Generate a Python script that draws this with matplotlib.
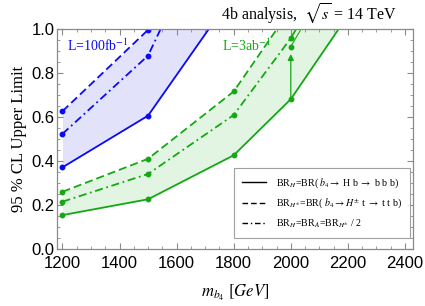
import numpy as np
import matplotlib
matplotlib.use("Agg")
import matplotlib.pyplot as plt
from matplotlib.ticker import MultipleLocator

plt.rcParams["mathtext.fontset"] = "stix"
plt.rcParams["font.family"] = "Liberation Serif"

# --- data ---
blue_x = [1200, 1500, 1800]
blue_solid = [0.37, 0.605, 1.16]
blue_dashed = [0.625, 0.995, 1.60]
blue_dashdot = [0.522, 0.878, 1.70]

green_x = [1200, 1500, 1800, 2000, 2200]
green_solid = [0.153, 0.225, 0.425, 0.68, 1.06]
green_dashed = [0.259, 0.409, 0.715, 1.09, 1.50]
green_dashdot = [0.214, 0.340, 0.608, 0.957, 1.40]

# extra thin line and arrow near m = 2000
thin_x = [2000, 2100]
thin_y = [0.919, 1.14]
arrow_x = 2000
arrow_from = 0.69
arrow_to = 0.885

xticks = [1200, 1400, 1600, 1800, 2000, 2200, 2400]
yticks = [0.0, 0.2, 0.4, 0.6, 0.8, 1.0]

BLUE = "#0a0af5"
GREEN = "#14a814"
BLUE_FILL = "#e2e2fb"
GREEN_FILL = "#e2f5e2"
FRAME = "#8a8a8a"

fig = plt.figure(figsize=(4.25, 3.06), dpi=100)
ax = fig.add_axes([0.1348, 0.187, 0.8362, 0.719])

# shaded bands (solid -> dashed)
ax.fill_between(blue_x, blue_solid, blue_dashed, color=BLUE_FILL, lw=0)
ax.fill_between(green_x, green_solid, green_dashed, color=GREEN_FILL, lw=0)

lw = 1.3
ms = 3.2
dashed = (0, (4.5, 2.2))
dashdot = (0, (4.5, 2, 1, 2))
for xs, ys, col in [(blue_x, blue_solid, BLUE), (green_x, green_solid, GREEN)]:
    ax.plot(xs, ys, color=col, lw=lw, ls="-", marker="o", ms=ms)
for xs, ys, col in [(blue_x, blue_dashed, BLUE), (green_x, green_dashed, GREEN)]:
    ax.plot(xs, ys, color=col, lw=lw, ls=dashed, marker="o", ms=ms)
for xs, ys, col in [(blue_x, blue_dashdot, BLUE), (green_x, green_dashdot, GREEN)]:
    ax.plot(xs, ys, color=col, lw=lw, ls=dashdot, marker="o", ms=ms)

ax.plot(thin_x, thin_y, color=GREEN, lw=0.8, marker="o", ms=ms, markevery=[0])
ax.annotate("", xy=(arrow_x, arrow_to), xytext=(arrow_x, arrow_from),
            arrowprops=dict(arrowstyle="-|>", color=GREEN, lw=0.9,
                            mutation_scale=9, shrinkA=0, shrinkB=0))

ax.set_xlim(1182, 2427)
ax.set_ylim(0, 1.0)
ax.set_xticks(xticks)
ax.set_yticks(yticks)
ax.set_yticklabels([f"{v:.1f}" for v in yticks])
ax.xaxis.set_minor_locator(MultipleLocator(50))
ax.yaxis.set_minor_locator(MultipleLocator(0.05))
ax.tick_params(which="both", direction="in", top=True, right=True, color=FRAME,
               labelsize=12)
ax.tick_params(axis="x", pad=5)
ax.tick_params(axis="y", pad=2)
ax.tick_params(which="major", length=4, width=0.8)
ax.tick_params(which="minor", length=2.2, width=0.6)
for lab in ax.get_xticklabels() + ax.get_yticklabels():
    lab.set_family("Liberation Sans")
for sp in ax.spines.values():
    sp.set_color(FRAME)
    sp.set_linewidth(0.9)

ax.set_ylabel("95 % CL Upper Limit", fontsize=12, labelpad=3)
ax.set_xlabel(r"$m_{b_4}\ [GeV]$", fontsize=12, labelpad=9)

ax.text(0.028, 0.925, r"L=100fb$^{-1}$", transform=ax.transAxes, color=BLUE,
        fontsize=10, va="center", ha="left")
ax.text(0.463, 0.925, r"L=3ab$^{-1}$", transform=ax.transAxes, color=GREEN,
        fontsize=10, va="center", ha="left")
fig.text(0.934, 0.955, r"4b analysis,  $\sqrt{s}$ = 14 TeV", fontsize=11.5,
         ha="right", va="center")

# legend (black handles)
h1, = ax.plot([], [], color="black", lw=1.0, ls="-")
h2, = ax.plot([], [], color="black", lw=1.0, ls=(0, (4, 2.2)))
h3, = ax.plot([], [], color="black", lw=1.0, ls=(0, (4, 2, 1, 2)))
labels = [
    r"BR$_H$=BR( $b_4\!\rightarrow$ H b $\rightarrow$ b b b)",
    r"BR$_{H^{\pm}}$=BR( $b_4\rightarrow H^{\pm}$ t $\rightarrow$ t t b)",
    r"BR$_H$=BR$_A$=BR$_{H^{\pm}}$ / 2",
]
leg = ax.legend([h1, h2, h3], labels, loc="lower right",
                bbox_to_anchor=(0.992, 0.049), borderaxespad=0,
                fontsize=7.2, frameon=True,
                fancybox=False, edgecolor=FRAME, handlelength=2.4,
                borderpad=0.8, labelspacing=0.7, handletextpad=1.0)
leg.get_frame().set_linewidth(0.8)

fig.savefig("out.png", dpi=100)
